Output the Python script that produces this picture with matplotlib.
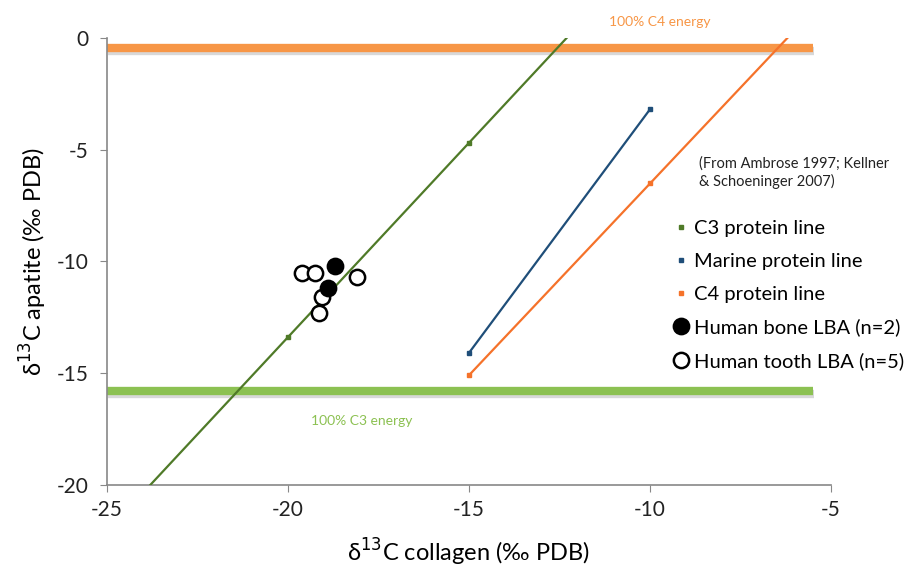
import matplotlib
matplotlib.use("Agg")
import matplotlib.pyplot as plt
import matplotlib.patheffects as pe
from matplotlib.lines import Line2D

plt.rcParams['font.family'] = ['Lato', 'DejaVu Sans']
plt.rcParams['axes.unicode_minus'] = False

# Datos
# Líneas de proteína (puntos de referencia y extremos de la recta)
c3_x = [-20, -15]
c3_y = [-13.4, -4.7]
c3_line_x = [-23.8, -12.3]
c3_line_y = [-20, 0]

marine_x = [-15, -10]
marine_y = [-14.1, -3.2]

c4_x = [-15, -10]
c4_y = [-15.1, -6.5]
c4_line_x = [-15, -6.2]
c4_line_y = [-15.1, 0]

# Líneas de energía 100% C4 y 100% C3
energy_x = [-25, -5.5]
c4_energy_y = -0.45
c3_energy_y = -15.8

# Muestras humanas LBA
bone_x = [-18.7, -18.9]
bone_y = [-10.2, -11.2]
tooth_x = [-19.6, -19.25, -18.1, -19.05, -19.15]
tooth_y = [-10.5, -10.5, -10.7, -11.6, -12.3]

col_c3 = '#4f7a28'
col_marine = '#1f4e79'
col_c4 = '#f5722a'
col_c4_bar = '#f79646'
col_c3_bar = '#8cc152'

fig = plt.figure(figsize=(9.07, 5.67), dpi=100)
ax = fig.add_axes([0.118, 0.145, 0.798, 0.788])

# Barras gruesas con una sombra suave
shadow = [pe.SimpleLineShadow(offset=(1, -2), shadow_color='gray', alpha=0.3), pe.Normal()]
ax.plot(energy_x, [c4_energy_y] * 2, color=col_c4_bar, lw=6, solid_capstyle='butt',
        path_effects=shadow, zorder=2)
ax.plot(energy_x, [c3_energy_y] * 2, color=col_c3_bar, lw=6, solid_capstyle='butt',
        path_effects=shadow, zorder=2)

# Rectas de proteína
ax.plot(c3_line_x, c3_line_y, color=col_c3, lw=1.6, zorder=3)
ax.plot(c3_x, c3_y, 's', color=col_c3, ms=2.5, zorder=3)
ax.plot(marine_x, marine_y, color=col_marine, lw=1.6, zorder=3)
ax.plot(marine_x, marine_y, 's', color=col_marine, ms=2.5, zorder=3)
ax.plot(c4_line_x, c4_line_y, color=col_c4, lw=1.6, zorder=3)
ax.plot(c4_x, c4_y, 's', color=col_c4, ms=2.5, zorder=3)

# Muestras humanas
ax.plot(tooth_x, tooth_y, 'o', mfc='white', mec='black', mew=1.8, ms=11, zorder=4)
ax.plot(bone_x, bone_y, 'o', mfc='black', mec='black', mew=1.8, ms=11, zorder=5)

ax.set_xlim(-25, -5)
ax.set_ylim(-20, 0)
ax.set_xticks([-25, -20, -15, -10, -5])
ax.set_yticks([0, -5, -10, -15, -20])
ax.tick_params(labelsize=15, colors='#222222', length=5, color='#888888')
ax.tick_params(axis='y', pad=8)
ax.tick_params(axis='x', pad=6)
for s in ['top', 'right']:
    ax.spines[s].set_visible(False)
for s in ['left', 'bottom']:
    ax.spines[s].set_color('#888888')
    ax.spines[s].set_linewidth(1.2)

ax.set_xlabel('δ$^{13}$C collagen (‰ PDB)', fontsize=17, labelpad=12)
ax.set_ylabel('δ$^{13}$C apatite (‰ PDB)', fontsize=17, labelpad=6)

fig.text(660 / 907, 1 - 22 / 567, '100% C4 energy', color=col_c4_bar, fontsize=10,
         ha='center', va='center')
fig.text(362 / 907, 1 - 421 / 567, '100% C3 energy', color=col_c3_bar, fontsize=10,
         ha='center', va='center')
fig.text(699 / 907, 1 - 173 / 567, '(From Ambrose 1997; Kellner\n& Schoeninger 2007)',
         fontsize=10.5, ha='left', va='center', color='#222222', linespacing=1.25)

handles = [
    Line2D([], [], ls='none', marker='s', color=col_c3, ms=2.5),
    Line2D([], [], ls='none', marker='s', color=col_marine, ms=2.5),
    Line2D([], [], ls='none', marker='s', color=col_c4, ms=2.5),
    Line2D([], [], ls='none', marker='o', mfc='black', mec='black', ms=11, mew=1.8),
    Line2D([], [], ls='none', marker='o', mfc='white', mec='black', ms=11, mew=1.8),
]
labels = ['C3 protein line', 'Marine protein line', 'C4 protein line',
          'Human bone LBA (n=2)', 'Human tooth LBA (n=5)']
fig.legend(handles, labels, loc='upper left', bbox_to_anchor=(663 / 907, 1 - 210 / 567),
           frameon=False, fontsize=14.5, handlelength=0.8, handletextpad=0.25,
           labelspacing=0.78, borderpad=0)

fig.savefig('out.png', dpi=100)
